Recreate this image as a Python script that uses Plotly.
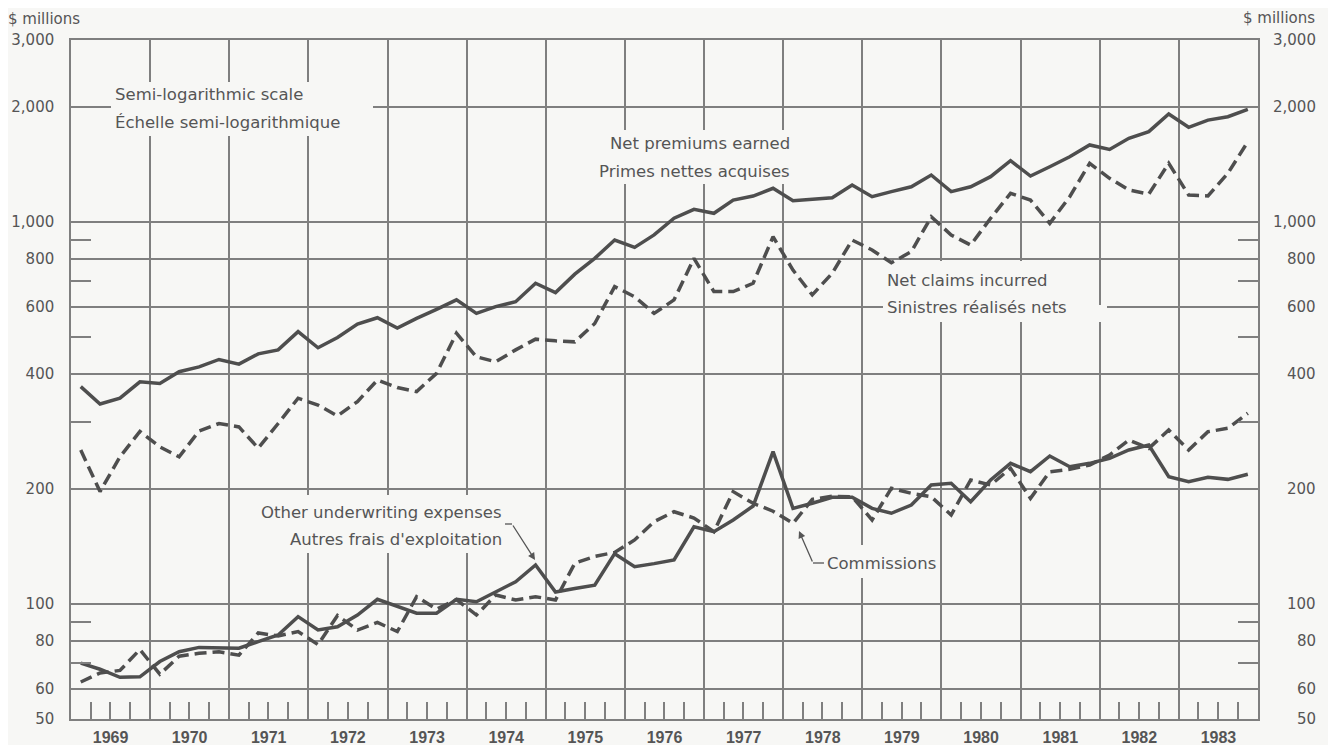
import math
import plotly.graph_objects as go

# ---------------- data ----------------
years = list(range(1969, 1984))
quarter_mid = ["02-15", "05-15", "08-15", "11-15"]
dates = [f"{y}-{m}" for y in years for m in quarter_mid]

net_premiums = [
    371, 334, 346, 382,   # 1969
    378, 406, 418, 437,   # 1970
    425, 452, 463, 517,   # 1971
    469, 499, 541, 562,   # 1972
    528, 560, 591, 626,   # 1973
    577, 601, 619, 692,   # 1974
    654, 731, 804, 898,   # 1975
    859, 926, 1024, 1081, # 1976
    1055, 1143, 1171, 1227,  # 1977
    1138, 1148, 1159, 1251,  # 1978
    1166, 1202, 1238, 1329,  # 1979
    1202, 1238, 1316, 1449,  # 1980
    1321, 1397, 1484, 1593,  # 1981
    1551, 1658, 1726, 1920,  # 1982
    1772, 1851, 1889, 1975,  # 1983
]

net_claims = [
    253, 197, 243, 283,
    258, 243, 284, 297,
    291, 256, 297, 346,
    332, 311, 339, 386,
    369, 360, 402, 512,
    444, 431, 463, 494,
    489, 486, 543, 678,
    638, 577, 626, 804,
    658, 658, 692, 916,
    749, 645, 735, 898,
    846, 783, 837, 1033,
    926, 871, 1024, 1190,
    1143, 993, 1166, 1426,
    1303, 1214, 1185, 1426,
    1178, 1171, 1343, 1624,
]

other_expenses = [
    70.0, 67.5, 64.3, 64.5,
    70.7, 75.0, 77.0, 76.6,
    76.6, 79.7, 83.0, 92.7,
    85.5, 87.2, 93.6, 102.9,
    98.4, 94.6, 94.6, 102.9,
    101.4, 107.8, 114.4, 126.6,
    107.5, 109.8, 112.0, 135.5,
    125.3, 127.6, 130.5, 159.4,
    154.7, 166.0, 180.6, 250.6,
    178.1, 183.6, 190.4, 190.4,
    178.1, 172.9, 181.7, 205.0,
    207.1, 185.4, 211.3, 233.6,
    222.1, 244.2, 228.9, 233.6,
    240.8, 253.2, 260.9, 215.5,
    209.1, 214.7, 212.1, 218.7,
]

commissions = [
    62.5, 66.0, 67.0, 76.0,
    65.5, 73.0, 74.3, 75.0,
    73.5, 84.0, 82.5, 84.7,
    78.3, 93.3, 85.5, 89.5,
    84.7, 104.5, 97.0, 102.7,
    93.6, 105.6, 102.5, 104.5,
    102.5, 127.9, 133.3, 136.5,
    147.2, 164.3, 174.5, 168.0,
    154.7, 197.0, 183.6, 175.0,
    162.7, 188.0, 191.5, 191.0,
    166.0, 201.0, 195.0, 191.0,
    171.1, 211.3, 205.0, 226.7,
    189.2, 222.1, 225.4, 231.3,
    245.6, 268.9, 255.7, 285.6,
    253.2, 282.7, 288.6, 316.0,
]

y_tick_values = [50, 60, 80, 100, 200, 400, 600, 800, 1000, 2000, 3000]
y_tick_text = ["50", "60", "80", "100", "200", "400", "600", "800", "1,000", "2,000", "3,000"]
y_minor_values = [70, 90, 300, 500, 700, 900]

# ---------------- style / geometry ----------------
# The page body keeps its default 8px margin, so the figure is drawn 8px
# right/down; the layout below is expressed in on-screen pixels.
OFF = 8
W, H = 1336, 745
SCR_L, SCR_R, SCR_T, SCR_B = 71, 1258, 40, 719      # plot box on screen
L = SCR_L - OFF
T = SCR_T - OFF
R = W - (SCR_R - OFF)
B = H - (SCR_B - OFF)
PW, PH = SCR_R - SCR_L, SCR_B - SCR_T
BG = "#f7f7f5"
GRID = "#7f7f7f"
LINE = "#4e4e4e"
TXT = "#555555"
FONT = "DejaVu Sans"


def px(x):
    return (x - SCR_L) / PW


def py(y):
    return (SCR_B - y) / PH


fig = go.Figure()

series = [
    ("Net premiums earned", net_premiums, "solid"),
    ("Net claims incurred", net_claims, "12px,6px"),
    ("Other underwriting expenses", other_expenses, "solid"),
    ("Commissions", commissions, "12px,6px"),
]
for name, vals, dash in series:
    fig.add_trace(go.Scatter(
        x=dates, y=vals, mode="lines", name=name,
        line=dict(color=LINE, width=3.5, dash=dash),
        showlegend=False, hoverinfo="x+y",
    ))

# gaps in the grid behind the text labels (placed clear of the curves)
boxes = [
    (111, 82, 373, 136),
    (598, 130, 800, 184),
    (883, 268, 1099, 322),
    (905, 261, 1099, 268),
    (1099, 305, 1107, 322),
    (255, 495, 512, 553),
    (818, 545, 940, 578),
]
shapes = []
for x0, y0, x1, y1 in boxes:
    shapes.append(dict(type="rect", xref="paper", yref="paper",
                       x0=px(x0), x1=px(x1), y0=py(y1), y1=py(y0),
                       fillcolor=BG, line=dict(width=0), layer="above"))
# short horizontal parts of the leaders
shapes.append(dict(type="line", xref="paper", yref="paper",
                   x0=px(813), x1=px(824), y0=py(563), y1=py(563),
                   line=dict(color=TXT, width=1.3), layer="above"))
shapes.append(dict(type="line", xref="paper", yref="paper",
                   x0=px(505), x1=px(512), y0=py(524), y1=py(524),
                   line=dict(color=TXT, width=1.3), layer="above"))

annotations = []


def label(text, x, y, anchor, size=16.5):
    annotations.append(dict(text=text, xref="paper", yref="paper",
                            x=px(x), y=py(y), xanchor=anchor, yanchor="middle",
                            showarrow=False,
                            font=dict(family=FONT, size=size, color=TXT)))


label("Semi-logarithmic scale", 113, 94.5, "left")
label("Échelle semi-logarithmique", 113, 122, "left")
label("Net premiums earned", 792, 143, "right")
label("Primes nettes acquises", 792, 171, "right")
label("Net claims incurred", 885, 280.5, "left")
label("Sinistres réalisés nets", 885, 307, "left")
label("Other underwriting expenses", 504, 512, "right")
label("Autres frais d'exploitation", 504, 539.5, "right")
label("Commissions", 825, 563.5, "left")
label("$ millions", 6, 19, "left", 15)
label("$ millions", 1317, 18, "right", 15)

# right-hand tick labels
for v, t in zip(y_tick_values, y_tick_text):
    annotations.append(dict(text=t, xref="paper", yref="y", x=px(1318),
                            y=math.log10(v), xanchor="right", yanchor="middle",
                            showarrow=False,
                            font=dict(family=FONT, size=15, color=TXT)))


def arrow(tail, tip):
    annotations.append(dict(text="", xref="paper", yref="paper",
                            x=px(tip[0]), y=py(tip[1]),
                            ax=tail[0] - tip[0], ay=tail[1] - tip[1],
                            axref="pixel", ayref="pixel",
                            showarrow=True, arrowhead=2, arrowsize=1.1,
                            arrowwidth=1.3, arrowcolor=TXT,
                            standoff=0, startstandoff=0))


arrow((512, 524), (535, 560))
arrow((813, 563), (799, 531))

fig.update_layout(
    width=W, height=H,
    margin=dict(l=L, r=R, t=T, b=B, pad=0, autoexpand=False),
    paper_bgcolor=BG, plot_bgcolor=BG,
    showlegend=False,
    shapes=shapes, annotations=annotations,
    xaxis=dict(
        type="date", range=["1969-01-01", "1984-01-01"],
        tick0="1969-01-01", dtick="M12", tickformat="%Y",
        ticklabelmode="period", ticks="", automargin=False,
        showgrid=True, gridcolor=GRID, gridwidth=1.5,
        showline=True, linecolor=GRID, linewidth=1.5, mirror=True,
        zeroline=False,
        tickfont=dict(family="Liberation Sans", size=16, color=TXT, weight="bold"),
        ticklabelstandoff=3,
        minor=dict(tick0="1969-01-01", dtick="M3", ticks="inside", ticklen=17,
                   tickwidth=1.5, tickcolor=GRID, showgrid=False),
    ),
    yaxis=dict(
        type="log", range=[math.log10(50), math.log10(3000)],
        tickmode="array", tickvals=y_tick_values, ticktext=y_tick_text,
        ticks="", automargin=False,
        showgrid=True, gridcolor=GRID, gridwidth=1.5,
        showline=True, linecolor=GRID, linewidth=1.5, mirror="ticks",
        zeroline=False,
        tickfont=dict(family=FONT, size=15, color=TXT),
        ticklabelstandoff=12,
        minor=dict(tickmode="array", tickvals=y_minor_values, ticks="inside",
                   ticklen=20, tickwidth=1.5, tickcolor=GRID, showgrid=False),
    ),
)

fig.write_html("out.html")
